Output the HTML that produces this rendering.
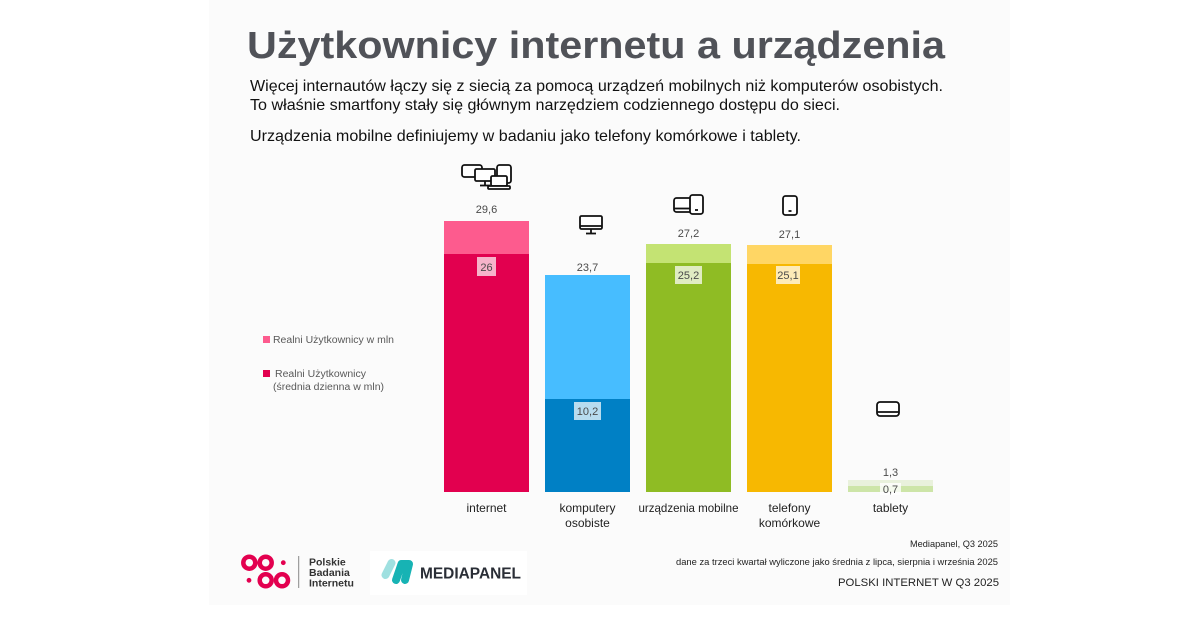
<!DOCTYPE html>
<html><head><meta charset="utf-8"><style>
html,body{margin:0;padding:0;background:#fff;}
svg{display:block;}
</style></head><body>
<svg width="1200" height="630" viewBox="0 0 1200 630" xmlns="http://www.w3.org/2000/svg">
<rect x="0" y="0" width="1200" height="630" fill="#ffffff"/>
<rect x="209" y="0" width="801" height="605" fill="#fbfbfb"/>

<!-- Title -->
<text x="247" y="58" font-family="Liberation Sans, Arial, sans-serif" font-weight="bold" font-size="38" fill="#505258" textLength="698" lengthAdjust="spacingAndGlyphs">Użytkownicy internetu a urządzenia</text>
<g font-family="Liberation Sans, Arial, sans-serif" font-size="16" fill="#111">
<text x="250" y="91" textLength="693" lengthAdjust="spacingAndGlyphs">Więcej internautów łączy się z siecią za pomocą urządzeń mobilnych niż komputerów osobistych.</text>
<text x="250" y="110" textLength="590" lengthAdjust="spacingAndGlyphs">To właśnie smartfony stały się głównym narzędziem codziennego dostępu do sieci.</text>
<text x="250" y="141" textLength="551" lengthAdjust="spacingAndGlyphs">Urządzenia mobilne definiujemy w badaniu jako telefony komórkowe i tablety.</text>
</g>

<!-- Bars -->
<rect x="444" y="221" width="85" height="271" fill="#fd5b8e"/>
<rect x="444" y="254" width="85" height="238" fill="#e2004f"/>
<rect x="545" y="275" width="85" height="217" fill="#47bdff"/>
<rect x="545" y="399" width="85" height="93" fill="#0080c5"/>
<rect x="646" y="244" width="85" height="248" fill="#c4e373"/>
<rect x="646" y="263" width="85" height="229" fill="#8fbc24"/>
<rect x="747" y="245" width="85" height="247" fill="#ffd664"/>
<rect x="747" y="264" width="85" height="228" fill="#f7b801"/>
<rect x="848" y="480" width="85" height="12" fill="#e9f1dc"/>
<rect x="848" y="486" width="85" height="6" fill="#cde5a8"/>

<!-- inner label boxes -->
<rect x="477" y="257" width="19" height="19" fill="#ffffff" fill-opacity="0.7"/>
<rect x="574" y="402" width="27" height="18" fill="#ffffff" fill-opacity="0.72"/>
<rect x="675" y="266" width="27" height="18" fill="#ffffff" fill-opacity="0.72"/>
<rect x="776" y="266" width="24" height="18" fill="#ffffff" fill-opacity="0.72"/>
<rect x="880" y="483" width="21" height="12" fill="#ffffff" fill-opacity="0.8"/>

<g font-family="Liberation Sans, Arial, sans-serif" font-size="11" fill="#4a4a4a" text-anchor="middle">
<text x="486.5" y="213">29,6</text>
<text x="486.5" y="271">26</text>
<text x="587.5" y="271">23,7</text>
<text x="587.5" y="415">10,2</text>
<text x="688.5" y="237">27,2</text>
<text x="688.5" y="279">25,2</text>
<text x="789.5" y="238">27,1</text>
<text x="788" y="279">25,1</text>
<text x="890.5" y="476">1,3</text>
<text x="890.5" y="493">0,7</text>
</g>

<!-- category labels -->
<g font-family="Liberation Sans, Arial, sans-serif" font-size="12" fill="#222" text-anchor="middle">
<text x="486.5" y="512">internet</text>
<text x="587.5" y="512">komputery</text>
<text x="587.5" y="527">osobiste</text>
<text x="688.5" y="512" textLength="100" lengthAdjust="spacingAndGlyphs">urządzenia mobilne</text>
<text x="789.5" y="512">telefony</text>
<text x="789.5" y="527">komórkowe</text>
<text x="890.5" y="512">tablety</text>
</g>

<!-- legend -->
<rect x="263" y="336" width="7" height="7" fill="#fd5b8e"/>
<rect x="263" y="370" width="7" height="7" fill="#e2004f"/>
<g font-family="Liberation Sans, Arial, sans-serif" font-size="10" fill="#595959">
<text x="273" y="343" textLength="121" lengthAdjust="spacingAndGlyphs">Realni Użytkownicy w mln</text>
<text x="275" y="377" textLength="91" lengthAdjust="spacingAndGlyphs">Realni Użytkownicy</text>
<text x="273" y="390" textLength="111" lengthAdjust="spacingAndGlyphs">(średnia dzienna w mln)</text>
</g>

<!-- Icons -->
<g fill="#fff" stroke="#111" stroke-width="1.8" stroke-linejoin="round">
 <rect x="462" y="165" width="20" height="12" rx="2.5"/>
 <rect x="497" y="165" width="14" height="18" rx="2.5"/>
 <rect x="475" y="169" width="20" height="12" rx="1.5"/>
 <line x1="485" y1="181" x2="485" y2="185"/>
 <line x1="480" y1="185.5" x2="490" y2="185.5"/>
 <rect x="491" y="176" width="16" height="10" rx="1.5"/>
 <rect x="488" y="186" width="22" height="3" rx="1"/>
 <rect x="580" y="216" width="22" height="13" rx="1.5"/>
 <line x1="580" y1="226" x2="602" y2="226"/>
 <line x1="591" y1="229" x2="591" y2="233"/>
 <line x1="586" y1="233.5" x2="596" y2="233.5"/>
 <rect x="674" y="198" width="19" height="14" rx="2.5"/>
 <line x1="674" y1="208.5" x2="690" y2="208.5"/>
 <rect x="690" y="195" width="13" height="19" rx="2.5"/>
 <line x1="695" y1="210" x2="698" y2="210"/>
 <rect x="783" y="196" width="14" height="19" rx="2.5"/>
 <line x1="788.5" y1="211" x2="791.5" y2="211"/>
 <rect x="877" y="402" width="22" height="14" rx="3"/>
 <line x1="877" y1="412" x2="899" y2="412"/>
</g>

<!-- Footer text -->
<g font-family="Liberation Sans, Arial, sans-serif" fill="#222">
<text x="998" y="547" font-size="9.5" text-anchor="end" textLength="88" lengthAdjust="spacingAndGlyphs">Mediapanel, Q3 2025</text>
<text x="998" y="565" font-size="9.5" text-anchor="end" textLength="322" lengthAdjust="spacingAndGlyphs">dane za trzeci kwartał wyliczone jako średnia z lipca, sierpnia i września 2025</text>
<text x="999" y="586" font-size="11" text-anchor="end" textLength="161" lengthAdjust="spacingAndGlyphs">POLSKI INTERNET W Q3 2025</text>
</g>

<!-- PBI logo -->
<g fill="none" stroke="#e3004f" stroke-width="4.5">
 <circle cx="249.3" cy="562.7" r="6"/>
 <circle cx="265.7" cy="562.7" r="6"/>
 <circle cx="265.7" cy="580.3" r="6"/>
 <circle cx="282" cy="580.3" r="6"/>
</g>
<g fill="#e3004f">
 <circle cx="283.3" cy="562.7" r="2.4"/>
 <circle cx="249" cy="580.3" r="2.4"/>
</g>
<line x1="298.7" y1="556" x2="298.7" y2="588" stroke="#888" stroke-width="1"/>
<g font-family="Liberation Sans, Arial, sans-serif" font-weight="bold" font-size="10.5" fill="#333">
<text x="309" y="565.5">Polskie</text>
<text x="309" y="576">Badania</text>
<text x="309" y="586.5">Internetu</text>
</g>

<!-- Mediapanel logo -->
<rect x="370" y="551" width="157" height="44" fill="#ffffff"/>
<g stroke-linecap="round" stroke-linejoin="round" fill="none" stroke-width="8">
 <line x1="385.5" y1="575" x2="391.5" y2="563" stroke="#9fe0e0"/>
 <polyline points="396,580 401.5,564 409,564 405,580" stroke="#17b3b4"/>
</g>
<text x="420" y="578.5" font-family="Liberation Sans, Arial, sans-serif" font-weight="bold" font-size="15.5" fill="#2a2e36" textLength="101" lengthAdjust="spacingAndGlyphs">MEDIAPANEL</text>
</svg>
</body></html>
